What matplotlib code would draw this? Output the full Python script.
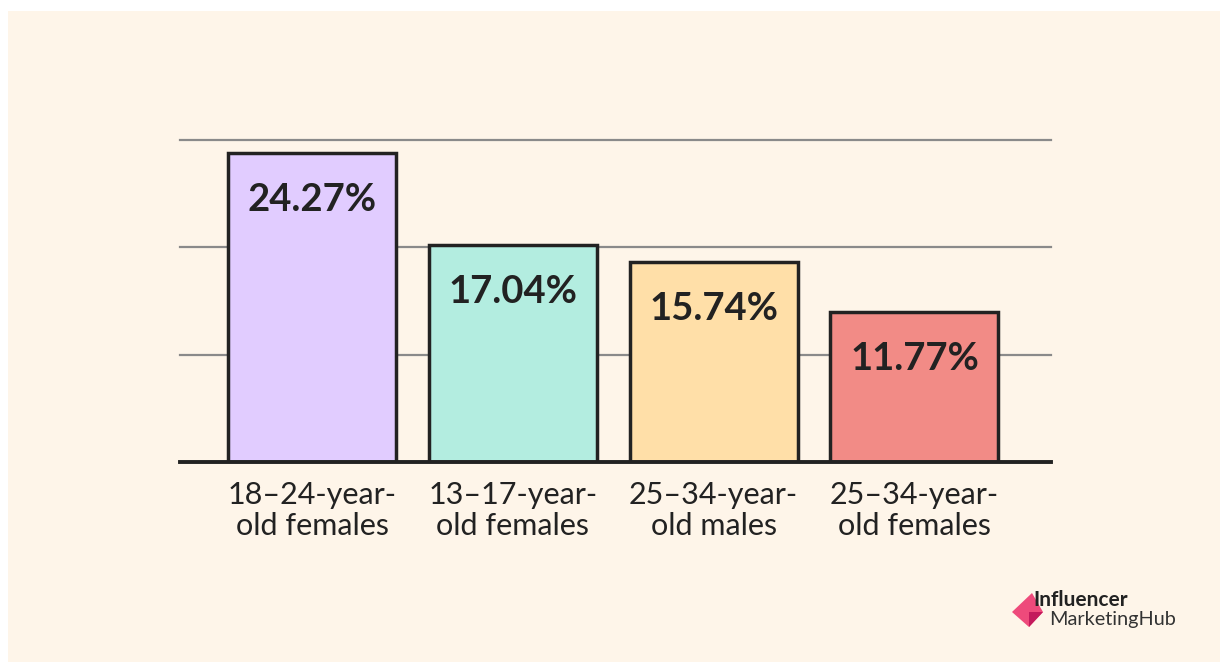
import matplotlib.pyplot as plt
from matplotlib.patches import Rectangle, Polygon

# data
categories = ["18\u201324-year-\nold females", "13\u201317-year-\nold females",
              "25\u201334-year-\nold males", "25\u201334-year-\nold females"]
values = [24.27, 17.04, 15.74, 11.77]
labels = ["24.27%", "17.04%", "15.74%", "11.77%"]
colors = ["#E1CCFF", "#B3EDE0", "#FFDFA8", "#F28B86"]
grid_vals = [8.43, 16.86, 25.29]

W, H = 1220, 662
fig = plt.figure(figsize=(W / 100, H / 100), dpi=100)
fig.patch.set_facecolor("white")
fig.patches.append(Rectangle((8 / W, 0), 1, 1 - 11 / H, transform=fig.transFigure,
                             facecolor="#FEF5E9", edgecolor="none", zorder=-5))

ax = fig.add_axes([180 / W, 1 - 462 / H, (1051 - 180) / W, (462 - 140) / H])
ax.set_facecolor("none")
x = list(range(len(values)))
ax.bar(x, values, width=0.837, color=colors, edgecolor="#222222", linewidth=2.5, zorder=3)
for xi, v, lab in zip(x, values, labels):
    ax.annotate(lab, (xi, v), xytext=(0, -47), textcoords="offset pixels",
                ha="center", va="center", fontsize=27.5, fontweight="bold",
                family="Lato", color="#222222", zorder=4)

ax.set_xlim(-0.658, 3.68)
ax.set_ylim(0, grid_vals[-1])
for g in grid_vals:
    ax.axhline(g, color="#8A8A8A", linewidth=1.6, zorder=1, clip_on=False)
ax.axhline(0, color="#222222", linewidth=2.8, zorder=4, clip_on=False)
for s in ax.spines.values():
    s.set_visible(False)
ax.set_yticks([])
ax.set_xticks(x)
ax.set_xticklabels(categories, fontsize=22, family="Lato", color="#222222",
                   linespacing=1.12)
ax.tick_params(axis="x", length=0, pad=14)

# logo
fig.patches.append(Polygon([(1012 / W, 1 - 612 / H), (1032 / W, 1 - 593 / H),
                            (1043 / W, 1 - 612 / H), (1029 / W, 1 - 627 / H)],
                           closed=True, transform=fig.transFigure,
                           facecolor="#EE4A7B", edgecolor="none"))
fig.patches.append(Polygon([(1029 / W, 1 - 612 / H), (1043 / W, 1 - 612 / H),
                            (1029 / W, 1 - 627 / H)],
                           closed=True, transform=fig.transFigure,
                           facecolor="#C31A5C", edgecolor="none"))
fig.text(1033 / W, 1 - 600 / H, "Influencer", fontsize=15, fontweight="bold",
         family="Lato", color="#222222", va="center", ha="left")
fig.text(1049 / W, 1 - 619 / H, "MarketingHub", fontsize=14.3,
         family="Lato", color="#333333", va="center", ha="left")

fig.savefig("out.png", dpi=100, facecolor=fig.get_facecolor())
